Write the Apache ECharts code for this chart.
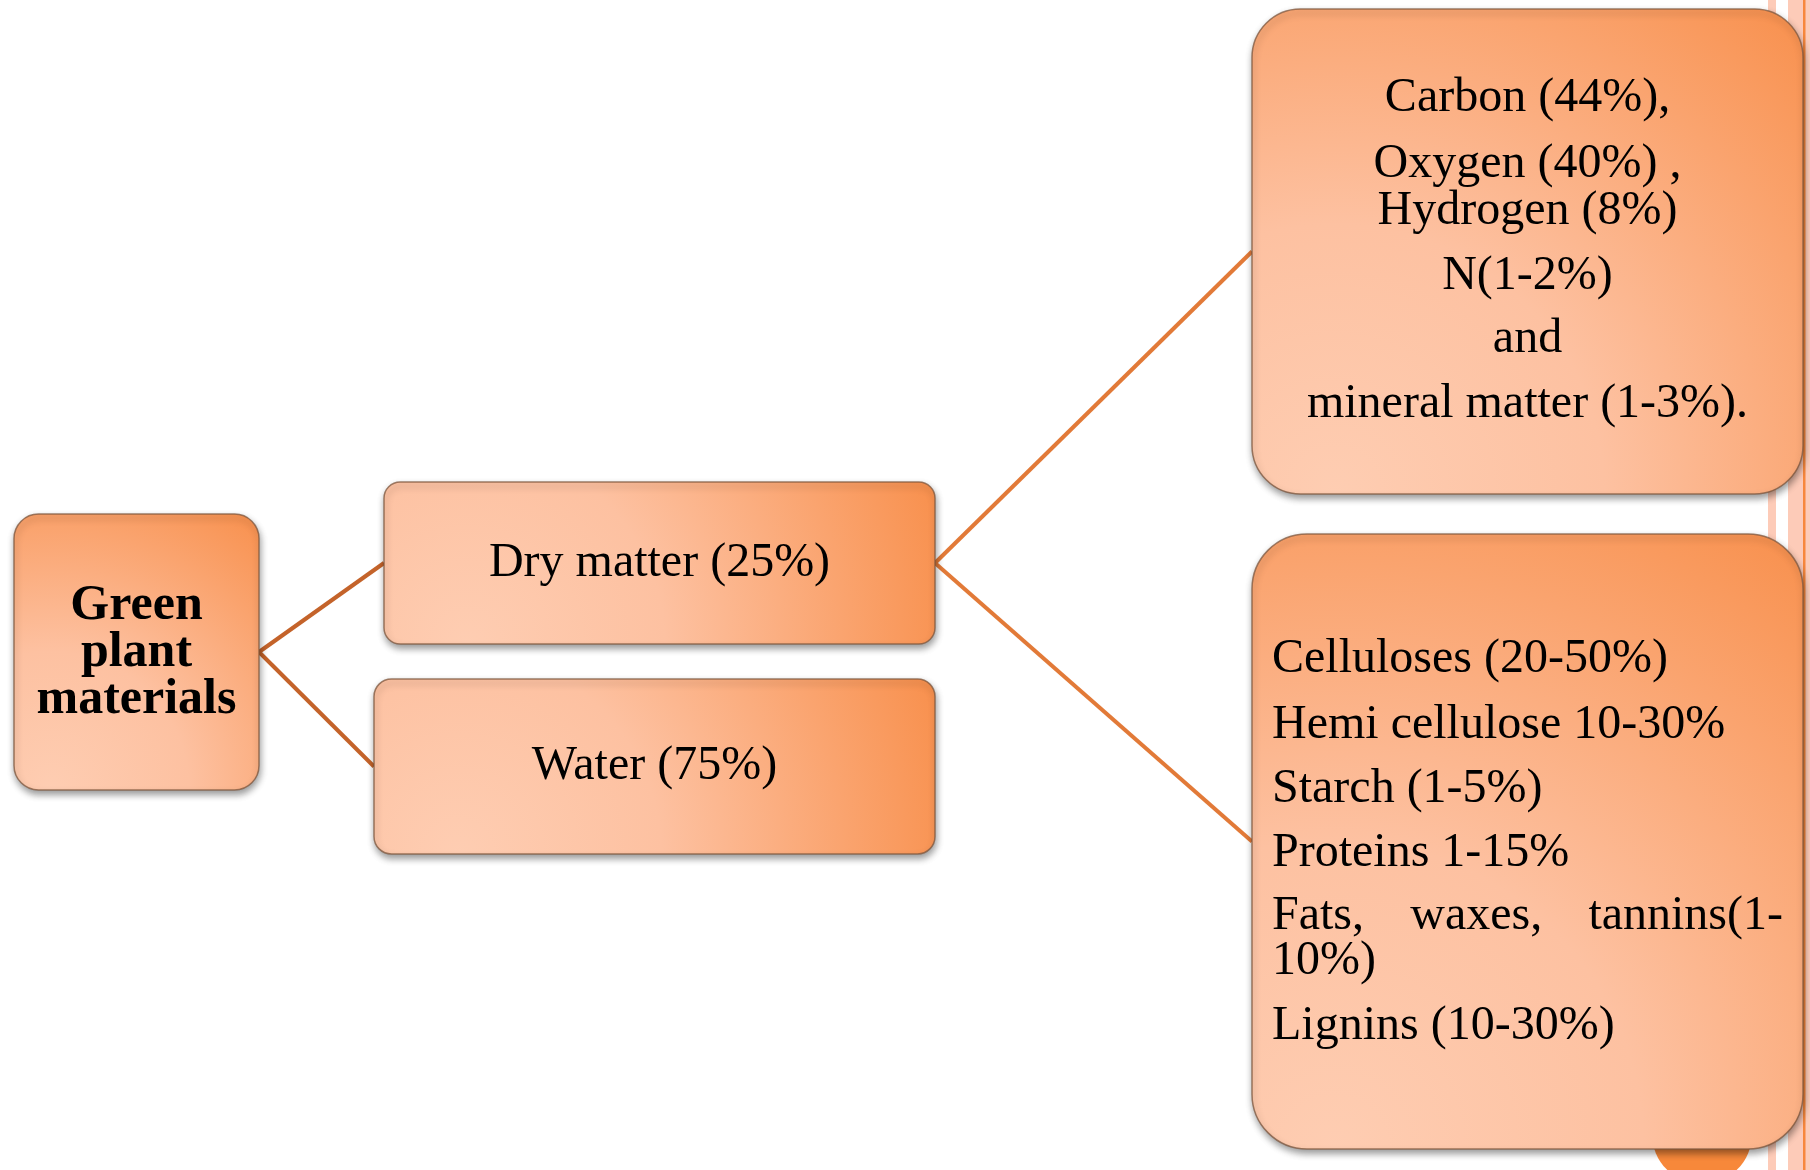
<!DOCTYPE html>
<html>
<head>
<meta charset="utf-8">
<script src="https://cdn.jsdelivr.net/npm/echarts@6.0.0/dist/echarts.min.js"></script>
<style>
html, body { margin: 0; padding: 0; background: #fff; }
#chart { width: 1810px; height: 1170px; }
</style>
</head>
<body>
<div id="chart"></div>
<script>
// text of each box, line by line
var boxLines = [
  ['Green', 'plant', 'materials'],
  ['Dry matter (25%)'],
  ['Water (75%)'],
  ['Carbon (44%),', 'Oxygen (40%) ,', 'Hydrogen (8%)', 'N(1-2%)', 'and', 'mineral matter (1-3%).'],
  ['Celluloses (20-50%)', 'Hemi cellulose 10-30%', 'Starch (1-5%)', 'Proteins 1-15%', 'Fats, waxes, tannins(1-', '10%)', 'Lignins (10-30%)']
];
// which box links to which
var links = [[0, 1], [0, 2], [1, 3], [1, 4]];

// layout on the page grid (x0, y0, x1, y1) and line centres
var boxExtent = [[14, 514, 259, 790], [384, 482, 935, 644], [374, 679, 935, 854], [1252, 9, 1803, 494], [1252, 534, 1803, 1149]];
var lineY = [[606, 653, 700], [563], [766], [98, 164, 211, 276, 339, 404], [659, 725, 789, 853, 916, 961, 1026]];
var justified = { '4-4': true };

var FONT = '"Liberation Serif", "DejaVu Serif", serif';
var measure = document.createElement('canvas').getContext('2d');
measure.font = '48px ' + FONT;

var chart = echarts.init(document.getElementById('chart'));

function textEl(str, x, y, align, bold) {
  return {
    type: 'text',
    style: {
      text: str, x: x, y: y, align: align, verticalAlign: 'middle',
      fontFamily: FONT, fontSize: bold ? 50 : 48, fontWeight: bold ? 'bold' : 'normal', fill: '#000'
    }
  };
}

function renderBox(params, api) {
  var i = params.dataIndex;
  var p0 = api.coord([api.value(0), api.value(1)]);
  var p1 = api.coord([api.value(2), api.value(3)]);
  var w = p1[0] - p0[0], h = p1[1] - p0[1];
  var kids = [{
    type: 'rect',
    shape: { x: p0[0], y: p0[1], width: w, height: h, r: Math.min(w, h) * 0.1 },
    style: {
      fill: {
        type: 'radial', global: true,
        x: p0[0] + 0.15 * w, y: p1[1], r: Math.hypot(0.85 * w, h),
        colorStops: [
          { offset: 0, color: '#FECDB2' },
          { offset: 0.4, color: '#FDC1A1' },
          { offset: 1, color: '#F8904D' }
        ]
      },
      stroke: 'rgba(125,85,60,0.75)', lineWidth: 1.5,
      shadowBlur: 7, shadowOffsetX: 1, shadowOffsetY: 4, shadowColor: 'rgba(0,0,0,0.4)'
    }
  }];
  var lines = boxLines[i];
  for (var k = 0; k < lines.length; k++) {
    var y = api.coord([0, lineY[i][k]])[1];
    if (i === 4) {
      var left = p0[0] + 20, right = p1[0] - 20;
      if (justified[i + '-' + k]) {
        var words = lines[k].split(' ');
        var total = 0;
        words.forEach(function (wd) { total += measure.measureText(wd).width; });
        var gap = (right - left - total) / (words.length - 1);
        var x = left;
        words.forEach(function (wd) {
          kids.push(textEl(wd, x, y, 'left', false));
          x += measure.measureText(wd).width + gap;
        });
      } else {
        kids.push(textEl(lines[k], left, y, 'left', false));
      }
    } else {
      kids.push(textEl(lines[k], (p0[0] + p1[0]) / 2, y, 'center', i === 0));
    }
  }
  return { type: 'group', children: kids };
}

var linkData = links.map(function (l, n) {
  var a = boxExtent[l[0]], b = boxExtent[l[1]];
  return {
    coords: [[a[2], (a[1] + a[3]) / 2], [b[0], (b[1] + b[3]) / 2]],
    lineStyle: { color: n < 2 ? '#C4632A' : '#E27A38' }
  };
});

var option = {
  backgroundColor: '#fff',
  animation: false,
  grid: { left: 0, right: 0, top: 0, bottom: 0 },
  xAxis: { type: 'value', min: 0, max: 1810, show: false },
  yAxis: { type: 'value', min: 0, max: 1170, inverse: true, show: false },
  graphic: [
    { type: 'rect', shape: { x: 1768, y: 0, width: 8, height: 1170 }, style: { fill: '#FDCBB8' } },
    { type: 'rect', shape: { x: 1788, y: 0, width: 22, height: 1170 }, style: { fill: '#FDCBB8' } },
    { type: 'rect', shape: { x: 1803, y: 0, width: 2.5, height: 1170 }, style: { fill: '#F7883C' } },
    { type: 'circle', shape: { cx: 1702, cy: 1134, r: 50 }, style: { fill: '#F7883A' } }
  ],
  series: [
    {
      type: 'lines',
      coordinateSystem: 'cartesian2d',
      z: 1,
      lineStyle: { width: 4, opacity: 1 },
      data: linkData
    },
    {
      type: 'custom',
      coordinateSystem: 'cartesian2d',
      z: 3,
      encode: { x: [0, 2], y: [1, 3] },
      renderItem: renderBox,
      data: boxExtent
    }
  ]
};
chart.setOption(option);
</script>
</body>
</html>
